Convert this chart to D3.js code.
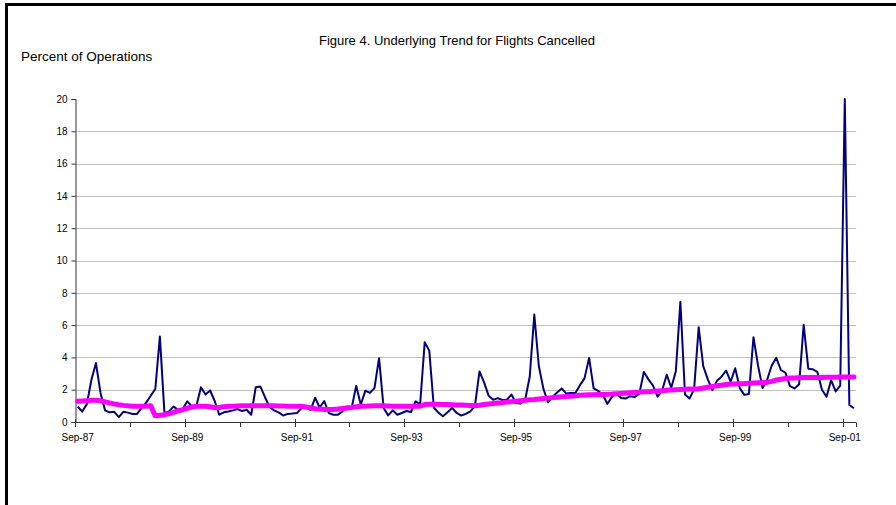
<!DOCTYPE html>
<html><head><meta charset="utf-8">
<script src="https://cdn.jsdelivr.net/npm/d3@7"></script>
<style>html,body{margin:0;padding:0;background:#fff;}svg{display:block;font-family:"Liberation Sans",Arial,sans-serif;}</style>
</head><body>
<svg id="chart" width="896" height="505"></svg>
<script>
const title = "Figure 4. Underlying Trend for Flights Cancelled";
const yTitle = "Percent of Operations";
const startMonth = new Date(1987, 8, 1);
const endMonth = new Date(2001, 11, 1);
const yTicks = [0,2,4,6,8,10,12,14,16,18,20];
const xTickLabels = ["Sep-87","Sep-89","Sep-91","Sep-93","Sep-95","Sep-97","Sep-99","Sep-01"];

const cancelled = [
0.95,0.65,1.1,2.6,3.65,1.8,0.72,0.6,0.63,0.3,0.63,0.58,
0.5,0.5,0.87,1.2,1.63,2.04,5.3,0.55,0.66,0.95,0.76,0.8,
1.28,0.97,1.0,2.15,1.7,1.95,1.3,0.45,0.6,0.65,0.72,0.8,
0.68,0.76,0.45,2.15,2.2,1.55,0.95,0.72,0.6,0.4,0.5,0.52,
0.55,0.85,0.95,0.75,1.5,0.9,1.3,0.55,0.45,0.45,0.66,0.97,
0.87,2.25,1.07,1.94,1.8,2.1,3.95,0.87,0.41,0.72,0.45,0.56,
0.68,0.62,1.28,1.1,4.94,4.42,0.9,0.58,0.35,0.6,0.87,0.56,
0.4,0.5,0.66,1.0,3.13,2.45,1.63,1.38,1.48,1.36,1.38,1.7,
1.18,1.15,1.38,2.8,6.65,3.45,2.05,1.22,1.57,1.82,2.08,1.76,
1.8,1.8,2.28,2.7,3.97,2.08,1.92,1.7,1.12,1.55,1.75,1.49,
1.45,1.6,1.55,1.75,3.1,2.64,2.25,1.57,1.95,2.93,2.12,3.14,
7.45,1.7,1.45,2.02,5.87,3.46,2.64,1.97,2.55,2.8,3.19,2.5,
3.33,2.1,1.68,1.73,5.25,3.5,2.1,2.62,3.5,3.97,3.22,3.05,
2.22,2.08,2.33,6.02,3.3,3.26,3.1,2.0,1.56,2.59,1.89,2.25,
20.0,1.05,0.85];

const trend = [
1.28,1.3,1.32,1.34,1.35,1.32,1.25,1.18,1.12,1.07,1.03,1.0,
0.98,0.97,0.97,0.98,1.0,0.38,0.42,0.45,0.52,0.6,0.7,0.76,
0.85,0.93,0.97,0.98,0.98,0.94,0.9,0.9,0.95,0.97,0.98,0.99,
1.0,1.0,1.0,1.0,1.0,1.0,1.0,1.0,0.99,0.99,0.98,0.98,
0.98,0.97,0.93,0.88,0.82,0.8,0.78,0.77,0.78,0.8,0.83,0.87,
0.9,0.95,0.97,0.98,0.99,1.0,1.0,1.0,0.99,0.98,0.97,0.97,
0.97,0.97,0.97,0.98,1.08,1.1,1.1,1.1,1.09,1.08,1.07,1.06,
1.05,1.04,1.02,1.0,1.04,1.08,1.12,1.15,1.18,1.2,1.23,1.26,
1.29,1.32,1.35,1.38,1.4,1.43,1.46,1.48,1.51,1.53,1.56,1.58,
1.6,1.62,1.65,1.67,1.68,1.69,1.7,1.71,1.72,1.73,1.75,1.77,
1.79,1.81,1.83,1.85,1.87,1.88,1.9,1.92,1.94,1.96,1.98,2.0,
2.02,2.03,2.04,2.05,2.06,2.1,2.15,2.2,2.24,2.28,2.32,2.35,
2.36,2.37,2.38,2.4,2.42,2.43,2.44,2.45,2.52,2.6,2.65,2.7,
2.72,2.73,2.74,2.75,2.75,2.76,2.76,2.76,2.77,2.77,2.77,2.78,
2.78,2.78,2.78];

const fmt = d3.timeFormat("%b-%y");
const categories = d3.timeMonth.range(startMonth, endMonth).map(fmt);

const svg = d3.select("#chart");
const x = d3.scaleBand().domain(categories).range([75.4, 856.2]).paddingInner(0).paddingOuter(0);
const y = d3.scaleLinear().domain([0, 20]).range([422, 99]);
const cx = c => x(c) + x.bandwidth() / 2;

// frame
svg.append("path").attr("d", "M6.5,505 V4.5 H896").attr("fill", "none").attr("stroke", "#000").attr("stroke-width", 3);

// gridlines
svg.append("g").selectAll("line").data(yTicks.filter(v => v > 0 && v < 20)).join("line")
  .attr("x1", 75.4).attr("x2", 856.2)
  .attr("y1", d => Math.round(y(d)) + 0.5).attr("y2", d => Math.round(y(d)) + 0.5)
  .attr("stroke", "#c0c0c0").attr("stroke-width", 1);

// y axis
const yAxis = d3.axisLeft(y).tickValues(yTicks).tickSize(4).tickPadding(4).tickFormat(d3.format("d"));
const gy = svg.append("g").attr("transform", "translate(75.5,0)").call(yAxis);
gy.select(".domain").attr("stroke", "#333");
gy.selectAll(".tick line").attr("stroke", "#333");
gy.selectAll("text").attr("font-size", 10).attr("fill", "#000").attr("font-family", "Liberation Sans, Arial, sans-serif");

// x axis
const gx = svg.append("g");
gx.append("line").attr("x1", 75.4).attr("x2", 856.2).attr("y1", 422.5).attr("y2", 422.5).attr("stroke", "#333");
const tickCats = categories.filter((c, i) => i % 12 === 0);
gx.selectAll("line.tk").data(tickCats).join("line").attr("class", "tk")
  .attr("x1", d => Math.round(x(d)) + 0.5).attr("x2", d => Math.round(x(d)) + 0.5)
  .attr("y1", (d, i) => i % 2 === 0 ? 419 : 422.5).attr("y2", 427)
  .attr("stroke", "#333");
gx.append("line").attr("x1", Math.round(x.range()[1]) + 0.5).attr("x2", Math.round(x.range()[1]) + 0.5)
  .attr("y1", 422.5).attr("y2", 427).attr("stroke", "#333");
const labelCats = categories.filter(c => xTickLabels.includes(c));
gx.selectAll("text").data(labelCats).join("text")
  .attr("x", d => cx(d)).attr("y", 441).attr("text-anchor", "middle")
  .attr("font-size", 10).attr("fill", "#000").text(d => d);

// lines
const lineGen = d3.line().x((d, i) => cx(categories[i])).y(d => y(d));
svg.append("path").datum(cancelled).attr("d", lineGen).attr("fill", "none")
  .attr("stroke", "#000080").attr("stroke-width", 2).attr("stroke-linejoin", "round");
svg.append("path").datum(trend).attr("d", lineGen).attr("fill", "none")
  .attr("stroke", "#ff00ff").attr("stroke-width", 5).attr("stroke-linejoin", "round").attr("stroke-linecap", "round");

// titles
svg.append("text").attr("x", 457).attr("y", 45).attr("text-anchor", "middle").attr("font-size", 13).attr("fill", "#000").text(title);
svg.append("text").attr("x", 21).attr("y", 61).attr("font-size", 13.5).attr("fill", "#000").text(yTitle);
</script>
</body></html>
